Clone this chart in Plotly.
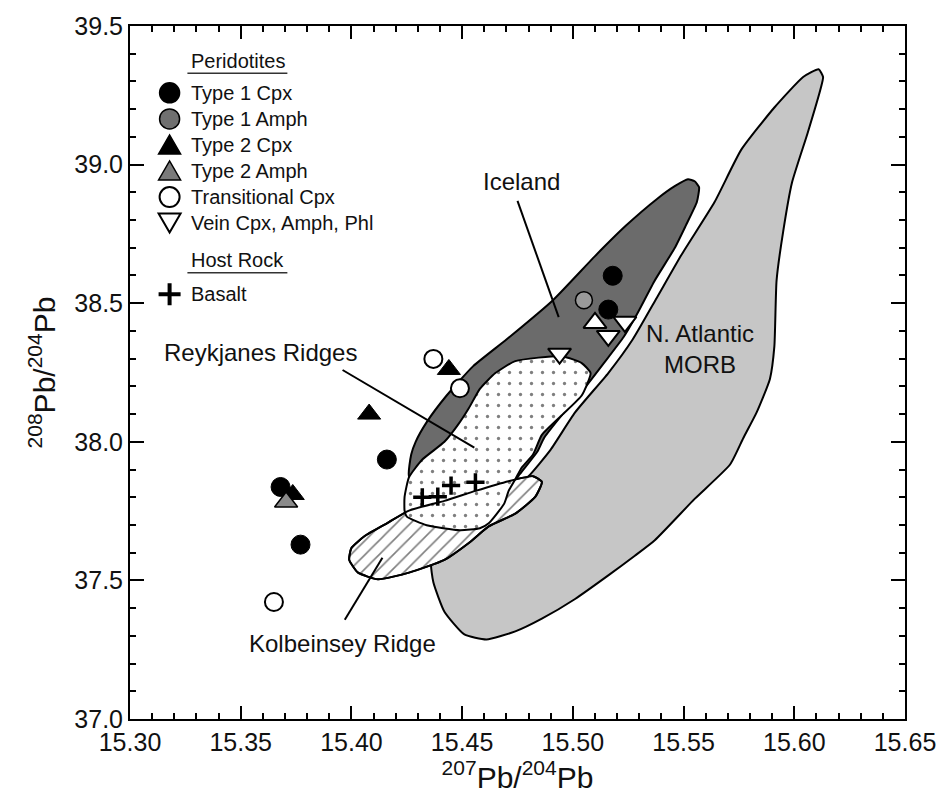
import plotly.graph_objects as go

# ---------------- data ----------------
type1_cpx_x = [15.518, 15.516, 15.416, 15.368, 15.377]
type1_cpx_y = [38.599, 38.477, 37.936, 37.837, 37.629]

type1_amph_x = [15.505]
type1_amph_y = [38.511]

type2_cpx_x = [15.444, 15.408, 15.3735]
type2_cpx_y = [38.261, 38.100, 37.810]

type2_amph_x = [15.3705]
type2_amph_y = [37.783]

trans_cpx_x = [15.437, 15.449, 15.365]
trans_cpx_y = [38.299, 38.193, 37.422]

vein_x = [15.510, 15.516, 15.5235, 15.494]
vein_y = [38.429, 38.382, 38.433, 38.318]

basalt_x = [15.432, 15.439, 15.445, 15.456]
basalt_y = [37.800, 37.802, 37.842, 37.854]

morb_x = [15.611, 15.613, 15.612, 15.606, 15.599, 15.595, 15.592, 15.591, 15.589, 15.583,
          15.577, 15.571, 15.555, 15.537, 15.528, 15.516, 15.501, 15.486, 15.474, 15.461,
          15.451, 15.442, 15.437, 15.436, 15.441, 15.456, 15.470, 15.480, 15.490, 15.501,
          15.516, 15.527, 15.538, 15.549, 15.564, 15.576, 15.591, 15.604, 15.611]
morb_y = [39.344, 39.316, 39.277, 39.113, 38.936, 38.759, 38.582, 38.344, 38.227, 38.106,
          38.014, 37.918, 37.794, 37.645, 37.589, 37.518, 37.433, 37.362, 37.316, 37.287,
          37.305, 37.387, 37.493, 37.564, 37.635, 37.741, 37.812, 37.876, 37.972, 38.106,
          38.248, 38.369, 38.521, 38.674, 38.865, 39.053, 39.206, 39.316, 39.344]

iceland_x = [15.552, 15.555, 15.557, 15.556, 15.551, 15.546, 15.537, 15.529, 15.523, 15.514,
             15.505, 15.496, 15.487, 15.484, 15.476, 15.468, 15.452, 15.434, 15.426, 15.427,
             15.429, 15.434, 15.443, 15.455, 15.470, 15.491, 15.510, 15.524, 15.538, 15.546, 15.552]
iceland_y = [38.947, 38.940, 38.918, 38.865, 38.780, 38.699, 38.582, 38.461, 38.379, 38.284,
             38.191, 38.106, 38.014, 37.965, 37.883, 37.794, 37.759, 37.812, 37.876, 37.954,
             38.000, 38.071, 38.167, 38.273, 38.369, 38.511, 38.670, 38.780, 38.876, 38.922, 38.947]

reyk_x = [15.426, 15.424, 15.424, 15.425, 15.434, 15.449, 15.458, 15.462, 15.469, 15.471,
          15.474, 15.477, 15.482, 15.486, 15.495, 15.504, 15.508, 15.504, 15.495, 15.474,
          15.465, 15.458, 15.453, 15.448, 15.442, 15.432, 15.426]
reyk_y = [37.872, 37.801, 37.752, 37.730, 37.699, 37.681, 37.688, 37.706, 37.777, 37.823,
          37.865, 37.908, 37.954, 38.025, 38.096, 38.167, 38.248, 38.284, 38.309, 38.291,
          38.248, 38.191, 38.121, 38.060, 38.000, 37.936, 37.872]

kolb_x = [15.399, 15.403, 15.412, 15.426, 15.442, 15.453, 15.462, 15.474, 15.483, 15.486,
          15.482, 15.471, 15.456, 15.442, 15.426, 15.416, 15.406, 15.400, 15.399]
kolb_y = [37.574, 37.528, 37.504, 37.528, 37.574, 37.635, 37.695, 37.741, 37.801, 37.855,
          37.876, 37.858, 37.823, 37.787, 37.752, 37.706, 37.660, 37.617, 37.574]

# leader lines for the region labels
iceland_lead_x = [15.475, 15.4936]
iceland_lead_y = [38.869, 38.450]
reyk_lead_x = [15.396, 15.4555]
reyk_lead_y = [38.259, 37.979]
kolb_lead_x = [15.397, 15.414]
kolb_lead_y = [37.358, 37.582]

region_labels = ["Iceland", "Reykjanes Ridges", "Kolbeinsey Ridge", "N. Atlantic<br>MORB"]
region_label_x = [15.477, 15.359, 15.396, 15.5576]
region_label_y = [38.940, 38.323, 37.273, 38.334]

legend_peridotites = ["Type 1 Cpx", "Type 1 Amph", "Type 2 Cpx", "Type 2 Amph",
                      "Transitional Cpx", "Vein Cpx, Amph, Phl"]
legend_host = ["Basalt"]

x_ticks = [15.30, 15.35, 15.40, 15.45, 15.50, 15.55, 15.60, 15.65]
y_ticks = [37.0, 37.5, 38.0, 38.5, 39.0, 39.5]

# ---------------- styles ----------------
FONT = "Liberation Sans, Arial, Helvetica, sans-serif"
W, H = 948, 804
ML, MR, MT, MB = 130, 35, 14, 85
PW, PH = W - ML - MR, H - MT - MB

fig = go.Figure()


def poly(xs, ys, fill, pattern=None, name=""):
    kw = dict(x=xs, y=ys, mode="lines", fill="toself",
              line=dict(color="black", width=2, shape="spline", smoothing=0.5),
              hoverinfo="skip", showlegend=False, name=name)
    if pattern is not None:
        kw["fillpattern"] = pattern
        kw["fillcolor"] = "white"
    else:
        kw["fillcolor"] = fill
    fig.add_trace(go.Scatter(**kw))


poly(morb_x, morb_y, "#c6c6c6", name="N. Atlantic MORB")
poly(iceland_x, iceland_y, "#6b6b6b", name="Iceland")
poly(kolb_x, kolb_y, None, pattern=dict(shape="/", bgcolor="white", fgcolor="black",
                                        size=10, solidity=0.16), name="Kolbeinsey Ridge")
poly(reyk_x, reyk_y, None, pattern=dict(shape=".", bgcolor="white", fgcolor="black",
                                        size=11, solidity=0.07), name="Reykjanes Ridges")
# Kolbeinsey outline visible on top of Reykjanes
fig.add_trace(go.Scatter(x=kolb_x, y=kolb_y, mode="lines",
                         line=dict(color="black", width=2, shape="spline", smoothing=0.5),
                         hoverinfo="skip", showlegend=False))

for lx, ly in [(iceland_lead_x, iceland_lead_y), (reyk_lead_x, reyk_lead_y),
               (kolb_lead_x, kolb_lead_y)]:
    fig.add_trace(go.Scatter(x=lx, y=ly, mode="lines", line=dict(color="black", width=2),
                             hoverinfo="skip", showlegend=False))


def pts(xs, ys, symbol, color, size, lw=1.5, name=""):
    fig.add_trace(go.Scatter(x=xs, y=ys, mode="markers", name=name, showlegend=False,
                             marker=dict(symbol=symbol, color=color, size=size,
                                         line=dict(color="black", width=lw))))


pts(trans_cpx_x, trans_cpx_y, "circle", "white", 18, 2, "Transitional Cpx")
pts(type1_cpx_x, type1_cpx_y, "circle", "black", 19, 1, "Type 1 Cpx")
pts(type1_amph_x, type1_amph_y, "circle", "#9a9a9a", 17, 1.5, "Type 1 Amph")
pts(type2_cpx_x, type2_cpx_y, "triangle-up", "black", 20, 1, "Type 2 Cpx")
pts(type2_amph_x, type2_amph_y, "triangle-up", "#8a8a8a", 20, 1.5, "Type 2 Amph")
vein_symbols = ["triangle-up", "triangle-down", "triangle-down", "triangle-down"]
pts(vein_x, vein_y, vein_symbols, "white", 20, 2, "Vein Cpx, Amph, Phl")
fig.add_trace(go.Scatter(x=basalt_x, y=basalt_y, mode="markers", name="Basalt",
                         showlegend=False,
                         marker=dict(symbol="cross-thin", size=13, color="black",
                                     line=dict(color="black", width=3.5))))

# region labels
for t, x, y in zip(region_labels, region_label_x, region_label_y):
    fig.add_annotation(x=x, y=y, text=t, showarrow=False, xref="x", yref="y",
                       font=dict(family=FONT, size=24, color="#111"), align="center")

# ---------------- hand-built legend ----------------
def px(x):
    return (x - ML) / PW


def py(y):
    return (MT + PH - y) / PH


shapes = []
MX, TX = 170, 190
rows = [82, 108.5, 135, 161.5, 188, 214]
legend_style = [("circle", "black"), ("circle", "#707070"), ("up", "black"),
                ("up", "#7a7a7a"), ("circle", "white"), ("down", "white")]
for (kind, col), yy in zip(legend_style, rows):
    base = dict(xref="paper", yref="paper", xsizemode="pixel", ysizemode="pixel",
                xanchor=px(MX), yanchor=py(yy), fillcolor=col,
                line=dict(color="black", width=2 if col == "white" else 1.5))
    if kind == "circle":
        shapes.append(dict(type="circle", x0=-10, x1=10, y0=-10, y1=10, **base))
    elif kind == "up":
        shapes.append(dict(type="path", path="M -11,-9 L 11,-9 L 0,10 Z", **base))
    else:
        shapes.append(dict(type="path", path="M -11,9 L 11,9 L 0,-10 Z", **base))
shapes.append(dict(type="path", xref="paper", yref="paper", xsizemode="pixel",
                   ysizemode="pixel", xanchor=px(MX), yanchor=py(287),
                   path="M -11,0 L 11,0 M 0,-11 L 0,11", line=dict(color="black", width=4)))
for uy in [62, 265]:
    shapes.append(dict(type="line", xref="paper", yref="paper", x0=px(188), x1=px(289),
                       y0=py(uy), y1=py(uy), line=dict(color="#333", width=1.5)))

legend_text_font = dict(family=FONT, size=20, color="#111")
for t, yy in zip(legend_peridotites, rows):
    fig.add_annotation(x=px(TX), y=py(yy), xref="paper", yref="paper", text=t,
                       showarrow=False, xanchor="left", yanchor="middle",
                       font=legend_text_font)
for t, yy in [("Peridotites", 50), ("Host Rock", 252), (legend_host[0], 287)]:
    fig.add_annotation(x=px(TX), y=py(yy), xref="paper", yref="paper", text=t,
                       showarrow=False, xanchor="left", yanchor="middle",
                       font=legend_text_font)

axis_common = dict(showline=True, linecolor="black", linewidth=2, mirror="ticks",
                   ticks="inside", tickcolor="black", tickwidth=2, showgrid=False,
                   zeroline=False, ticklabeloverflow="allow",
                   tickfont=dict(family=FONT, size=25, color="#111"))

fig.update_layout(
    width=W, height=H, margin=dict(l=ML, r=MR, t=MT, b=MB),
    paper_bgcolor="white", plot_bgcolor="white", showlegend=False,
    font=dict(family=FONT, color="#111"),
    shapes=shapes,
    xaxis=dict(range=[15.30, 15.65], tickvals=x_ticks, tickformat=".2f", ticklen=13,
               minor=dict(dtick=0.01, tick0=15.30, ticks="inside", ticklen=6,
                          tickwidth=1.5, tickcolor="black"),
               title=dict(text="<sup>207</sup>Pb/<sup>204</sup>Pb",
                          font=dict(family=FONT, size=30, color="#111"), standoff=8),
               **axis_common),
    yaxis=dict(range=[37.0, 39.5], tickvals=y_ticks, tickformat=".1f", ticklen=14,
               minor=dict(dtick=0.1, tick0=37.0, ticks="inside", ticklen=6,
                          tickwidth=1.5, tickcolor="black"),
               title=dict(text="<sup>208</sup>Pb/<sup>204</sup>Pb",
                          font=dict(family=FONT, size=30, color="#111"), standoff=10),
               **axis_common),
)

fig.write_html("out.html")
